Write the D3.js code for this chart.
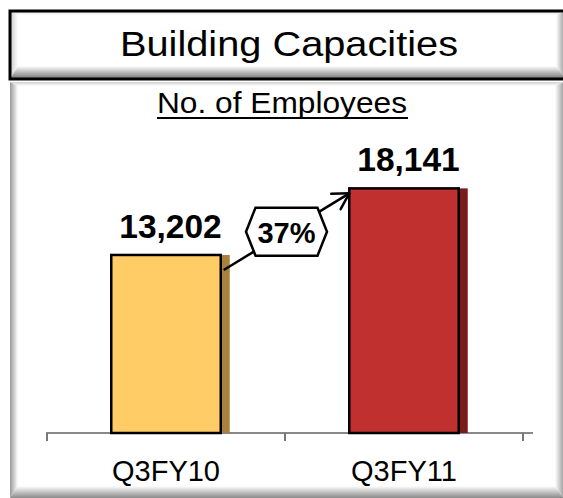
<!DOCTYPE html>
<html><head><meta charset="utf-8">
<script src="https://cdn.jsdelivr.net/npm/d3@7"></script>
<style>html,body{margin:0;padding:0;background:#fff;}svg{display:block;}</style>
</head><body>
<script>
// ---- data ----
const categories = ["Q3FY10", "Q3FY11"];
const values = [13202, 18141];
const valueLabels = ["13,202", "18,141"];
const growthLabel = "37%";
const chartTitle = "Building Capacities";
const chartSubtitle = "No. of Employees";

// ---- styles ----
const fills = ["#FFCC66", "#C0302F"];
const sideFills = ["#A6823E", "#7A1C1C"];
const FONT = "'Liberation Sans', Arial, Helvetica, sans-serif";

const W = 563, H = 498;
const svg = d3.select("body").append("svg").attr("width", W).attr("height", H);
const defs = svg.append("defs");

function grad(id, x1, y1, x2, y2, c1, c2) {
  const g = defs.append("linearGradient").attr("id", id)
    .attr("x1", x1).attr("y1", y1).attr("x2", x2).attr("y2", y2);
  g.append("stop").attr("offset", "0%").attr("stop-color", c1);
  g.append("stop").attr("offset", "100%").attr("stop-color", c2);
}
function bevel(prefix, x, y, w, h, bt, bl, bb, br, cTop, cLeft, cBottom, cRight) {
  grad(prefix + "t", 0, 0, 0, 1, cTop, "#ffffff");
  grad(prefix + "l", 0, 0, 1, 0, cLeft, "#ffffff");
  grad(prefix + "b", 0, 0, 0, 1, "#ffffff", cBottom);
  grad(prefix + "r", 0, 0, 1, 0, "#ffffff", cRight);
  const g = svg.append("g");
  g.append("rect").attr("x", x).attr("y", y).attr("width", w).attr("height", h).attr("fill", "#fff");
  const poly = (pts, f) => g.append("polygon").attr("points", pts.map(p => p.join(",")).join(" ")).attr("fill", f);
  poly([[x, y], [x + w, y], [x + w - br, y + bt], [x + bl, y + bt]], `url(#${prefix}t)`);
  poly([[x, y], [x + bl, y + bt], [x + bl, y + h - bb], [x, y + h]], `url(#${prefix}l)`);
  poly([[x, y + h], [x + bl, y + h - bb], [x + w - br, y + h - bb], [x + w, y + h]], `url(#${prefix}b)`);
  poly([[x + w, y], [x + w, y + h], [x + w - br, y + h - bb], [x + w - br, y + bt]], `url(#${prefix}r)`);
  return g;
}

// lower panel
bevel("p", 10, 82, 554, 416, 4, 8, 12, 9, "#d0d0d0", "#9a9a9a", "#8a8a8a", "#9a9a9a");
// title box
bevel("tb", 10, 11, 556, 68, 4, 8, 13, 10, "#d8d8d8", "#c8c8c8", "#707070", "#8a8a8a");
svg.append("rect").attr("x", 10).attr("y", 11).attr("width", 556).attr("height", 68)
  .attr("fill", "none").attr("stroke", "#000").attr("stroke-width", 3);

svg.append("text").attr("x", 289).attr("y", 56).attr("text-anchor", "middle")
  .attr("font-family", FONT).attr("font-size", 35).attr("fill", "#000")
  .attr("textLength", 338).attr("lengthAdjust", "spacingAndGlyphs").text(chartTitle);

svg.append("text").attr("x", 282).attr("y", 113).attr("text-anchor", "middle")
  .attr("font-family", FONT).attr("font-size", 29).attr("fill", "#000")
  .attr("textLength", 250).attr("lengthAdjust", "spacingAndGlyphs").text(chartSubtitle);
svg.append("line").attr("x1", 157).attr("x2", 408).attr("y1", 118).attr("y2", 118)
  .attr("stroke", "#000").attr("stroke-width", 2);

// ---- scales ----
const x = d3.scaleBand().domain(categories).range([47, 523]).padding(0);
const y = d3.scaleLinear().domain([0, 20000]).range([433, 163.3]);
const barW = x.bandwidth() * 0.46;
const depth = 9;

// axis
const axisG = svg.append("g").attr("transform", `translate(0,${y(0)})`);
axisG.append("line").attr("x1", 46).attr("x2", 533).attr("stroke", "#888").attr("stroke-width", 2);
const tickXs = [x.range()[0]].concat(categories.map(c => x(c) + x.bandwidth()));
axisG.selectAll("line.tick").data(tickXs).join("line").attr("class", "tick")
  .attr("x1", d => d).attr("x2", d => d).attr("y1", 0).attr("y2", 8)
  .attr("stroke", "#777").attr("stroke-width", 2);
axisG.selectAll("text").data(categories).join("text")
  .attr("x", d => x(d) + x.bandwidth() / 2).attr("y", 48).attr("text-anchor", "middle")
  .attr("font-family", FONT).attr("font-size", 29).attr("fill", "#000").text(d => d);

// bars
const bx = c => x(c) + x.bandwidth() / 2 - barW / 2;
const bars = svg.append("g");
categories.forEach((c, i) => {
  const x0 = bx(c), yt = y(values[i]), hh = y(0) - yt;
  bars.append("rect").attr("x", x0 + barW).attr("y", yt).attr("width", depth).attr("height", hh)
    .attr("fill", sideFills[i]);
  bars.append("rect").attr("x", x0).attr("y", yt).attr("width", barW).attr("height", hh)
    .attr("fill", fills[i]).attr("stroke", "#000").attr("stroke-width", 2.5);
  bars.append("text").attr("x", x0 + (barW + depth) / 2).attr("y", yt - 17)
    .attr("text-anchor", "middle").attr("font-family", FONT).attr("font-weight", "bold")
    .attr("font-size", 33.5).attr("fill", "#000").text(valueLabels[i]);
});

// growth arrow
const sx = bx(categories[0]) + barW + depth - 6, sy = y(values[0]) + 15;
const ex = bx(categories[1]), ey = y(values[1]) + 5;
svg.append("line").attr("x1", sx).attr("y1", sy).attr("x2", ex).attr("y2", ey)
  .attr("stroke", "#000").attr("stroke-width", 2.5);
const ang = Math.atan2(sy - ey, sx - ex), L = 18;
[ang + Math.PI / 6, ang - Math.PI / 6].forEach(a => {
  svg.append("line").attr("x1", ex).attr("y1", ey)
    .attr("x2", ex + L * Math.cos(a)).attr("y2", ey + L * Math.sin(a))
    .attr("stroke", "#000").attr("stroke-width", 2.5).attr("stroke-linecap", "round");
});
const cx = (sx + ex) / 2, cy = (sy + ey) / 2, hw = 40.5, hh2 = 24, sl = 9.5;
svg.append("polygon").attr("points", [
  [cx - hw, cy], [cx - hw + sl, cy - hh2], [cx + hw - sl, cy - hh2],
  [cx + hw, cy], [cx + hw - sl, cy + hh2], [cx - hw + sl, cy + hh2]].map(p => p.join(",")).join(" "))
  .attr("fill", "#fff").attr("stroke", "#000").attr("stroke-width", 2.5);
svg.append("text").attr("x", cx).attr("y", cy + 11).attr("text-anchor", "middle")
  .attr("font-family", FONT).attr("font-weight", "bold").attr("font-size", 29)
  .attr("fill", "#000").text(growthLabel);
</script>
</body></html>
